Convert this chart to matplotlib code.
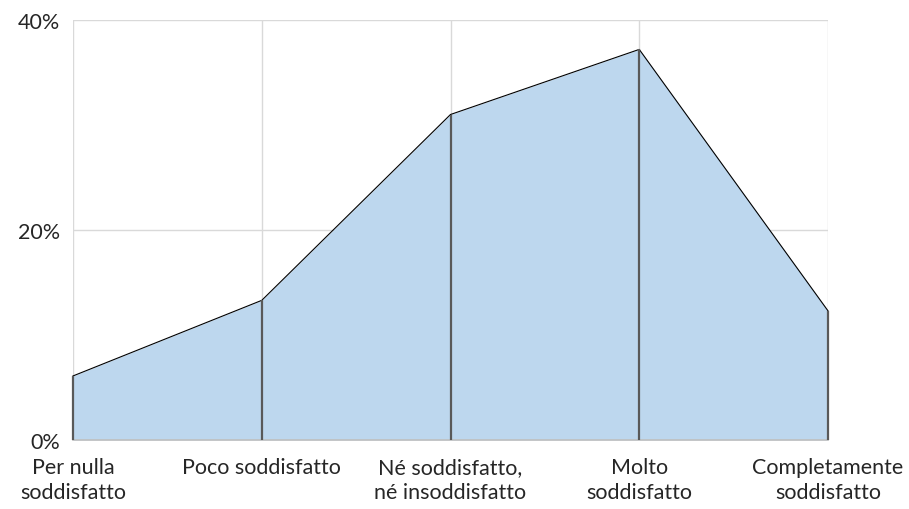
import matplotlib.pyplot as plt
import numpy as np

categories = ['Per nulla\nsoddisfatto', 'Poco soddisfatto', 'Né soddisfatto,\nné insoddisfatto',
              'Molto\nsoddisfatto', 'Completamente\nsoddisfatto']
values = [6.1, 13.3, 31.0, 37.2, 12.3]
yticks = [0, 20, 40]

plt.rcParams['font.family'] = ['Lato', 'DejaVu Sans']

fig = plt.figure(figsize=(9.09, 5.10), dpi=100)
ax = fig.add_axes([73 / 909, 1 - 441 / 510, 755 / 909, 420 / 510])

x = np.arange(len(values))
ax.fill_between(x, 0, values, color='#BDD7EE', zorder=2, linewidth=0)
ax.plot(x, values, color='black', lw=0.8, zorder=3, clip_on=False)
ax.vlines(x, 0, values, color='#595959', lw=1.6, zorder=3, clip_on=False)

ax.set_xlim(0, len(values) - 1)
ax.set_ylim(0, 40)
ax.set_yticks(yticks)
ax.set_yticklabels([f'{t}%' for t in yticks])
ax.set_xticks(x)
ax.set_xticklabels(categories, linespacing=1.35)

ax.grid(True, color='#D9D9D9', lw=1, zorder=0)
for s in ['top', 'right', 'left']:
    ax.spines[s].set_visible(False)
ax.spines['bottom'].set_color('#BFBFBF')
ax.spines['bottom'].set_linewidth(1.2)
ax.tick_params(axis='both', length=0, labelsize=15.5, colors='#262626')
ax.tick_params(axis='x', pad=12)
ax.tick_params(axis='y', pad=9)

fig.savefig('out.png', dpi=100)
